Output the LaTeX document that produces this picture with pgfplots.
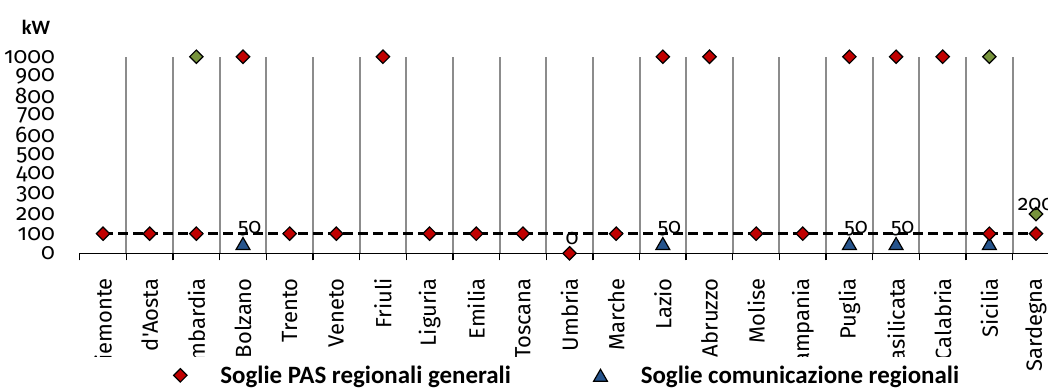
\documentclass[border=0pt]{standalone}
\usepackage{pgfplots}
\pgfplotsset{compat=1.18}
\usepackage{fontspec}
\usepackage{trimclip}
\setmainfont{Carlito}
\newfontfamily\labelfont[Numbers=OldStyle,Ligatures=TeXOff]{Fira Sans}

\definecolor{pasred}{RGB}{192,0,0}
\definecolor{comblue}{RGB}{38,84,140}
\definecolor{altgreen}{RGB}{119,147,60}
\definecolor{gridgray}{RGB}{140,140,140}

% region names are cut to the room left under the axis
\newcommand{\cut}[1]{\clipbox{0pt 0pt 0pt 0pt}{\makebox[59pt][r]{#1}}\kern18.5pt}

\begin{document}
\begin{tikzpicture}
\useasboundingbox (0,0) rectangle (786pt,291pt);
\clip (0,0) rectangle (786pt,291pt);
\begin{axis}[
  at={(59.8pt,101pt)}, anchor=south west,
  scale only axis, width=734.7pt, height=147.45pt,
  xmin=-0.5, xmax=20.5, ymin=0, ymax=1000,
  clip=false,
  axis x line*=bottom, axis y line*=left,
  x axis line style={draw=black, line width=1.1pt},
  y axis line style={draw=none},
  xtick={0,...,20},
  xticklabels={\cut{Piemonte},\cut{Valle d'Aosta},\cut{Lombardia},\cut{Bolzano},
    \cut{Trento},\cut{Veneto},\cut{Friuli},\cut{Liguria},\cut{Emilia},\cut{Toscana},
    \cut{Umbria},\cut{Marche},\cut{Lazio},\cut{Abruzzo},\cut{Molise},\cut{Campania},
    \cut{Puglia},\cut{Basilicata},\cut{Calabria},\cut{Sicilia},Sardegna\kern18.5pt},
  xticklabel style={rotate=90, anchor=east, inner sep=0pt, font=\labelfont\fontsize{16.5pt}{18pt}\selectfont},
  major tick length=0pt,
  minor xtick={0.5,1.5,...,19.5},
  minor tick length=0pt,
  xminorgrids,
  minor grid style={gridgray, line width=1.5pt},
  extra x ticks={-0.5,0.5,...,20.5},
  extra x tick labels={},
  extra x tick style={major tick length=5.25pt, tick align=outside, grid=none,
    major tick style={black, line width=1pt}},
  ytick={0,100,...,1000},
  yticklabels={0,100,200,300,400,500,600,700,800,900,1000},
  yticklabel style={anchor=east, inner sep=0pt, xshift=-18.5pt, font=\labelfont\fontsize{17pt}{19pt}\selectfont},
  legend columns=2,
  legend style={at={(axis description cs:0,0)}, anchor=west, xshift=70.25pt, yshift=-91.5pt,
    draw=none, fill=none, inner sep=0pt,
    font=\bfseries\fontsize{18.7pt}{20pt}\selectfont,
    /tikz/every odd column/.append style={column sep=23pt},
    /tikz/every even column/.append style={column sep=60pt}},
  legend cell align=left,
]
% legend entries
\addlegendimage{only marks, mark=square*, mark size=3.55pt,
  mark options={rotate=45, fill=pasred, draw=black, line width=0.9pt}}
\addlegendentry{Soglie PAS regionali generali}
\addlegendimage{only marks, mark=triangle*, mark size=6pt,
  mark options={fill=comblue, draw=black, line width=0.9pt, yshift=-1.5pt}}
\addlegendentry{Soglie comunicazione regionali}

% national threshold
\addplot[black, line width=1.9pt, dash pattern=on 7.5pt off 3.75pt, forget plot]
  coordinates {(0,100) (20,100)};

% Soglie comunicazione regionali
\addplot[only marks, mark=triangle*, mark size=6pt,
  mark options={fill=comblue, draw=black, line width=0.9pt, yshift=-1.5pt}, forget plot]
  coordinates {(3,50) (12,50) (16,50) (17,50) (19,50)};

% Soglie PAS regionali generali
\addplot[only marks, mark=square*, mark size=3.55pt,
  mark options={rotate=45, fill=pasred, draw=black, line width=0.9pt}, forget plot]
  coordinates {
    (0,100) (1,100) (2,100) (3,1000) (4,100) (5,100) (6,1000)
    (7,100) (8,100) (9,100) (10,0) (11,100) (12,1000) (13,1000)
    (14,100) (15,100) (16,1000) (17,1000) (18,1000) (19,100) (20,100)};

% other thresholds
\addplot[only marks, mark=square*, mark size=3.55pt,
  mark options={rotate=45, fill=altgreen, draw=black, line width=0.9pt}, forget plot]
  coordinates {(2,1000) (19,1000) (20,200)};

% value labels
\addplot[draw=none, mark=none, forget plot, nodes near coords, point meta=explicit symbolic,
  every node near coord/.style={anchor=center, xshift=5pt, yshift=11pt,
    font=\labelfont\fontsize{16pt}{18pt}\selectfont}]
  coordinates {(3,50) [50] (12,50) [50] (16,50) [50] (17,50) [50]};
\addplot[draw=none, mark=none, forget plot, nodes near coords, point meta=explicit symbolic,
  every node near coord/.style={anchor=center, xshift=2pt, yshift=11pt,
    font=\labelfont\fontsize{16pt}{18pt}\selectfont}]
  coordinates {(10,0) [0]};
\addplot[draw=none, mark=none, forget plot, nodes near coords, point meta=explicit symbolic,
  every node near coord/.style={anchor=center, xshift=0pt, yshift=7.5pt,
    font=\labelfont\fontsize{16pt}{18pt}\selectfont}]
  coordinates {(20,200) [200]};

\node[font=\bfseries\fontsize{15.3pt}{17pt}\selectfont] at (rel axis cs:0,1) [xshift=-32.8pt, yshift=22pt] {kW};
\end{axis}
\end{tikzpicture}
\end{document}
